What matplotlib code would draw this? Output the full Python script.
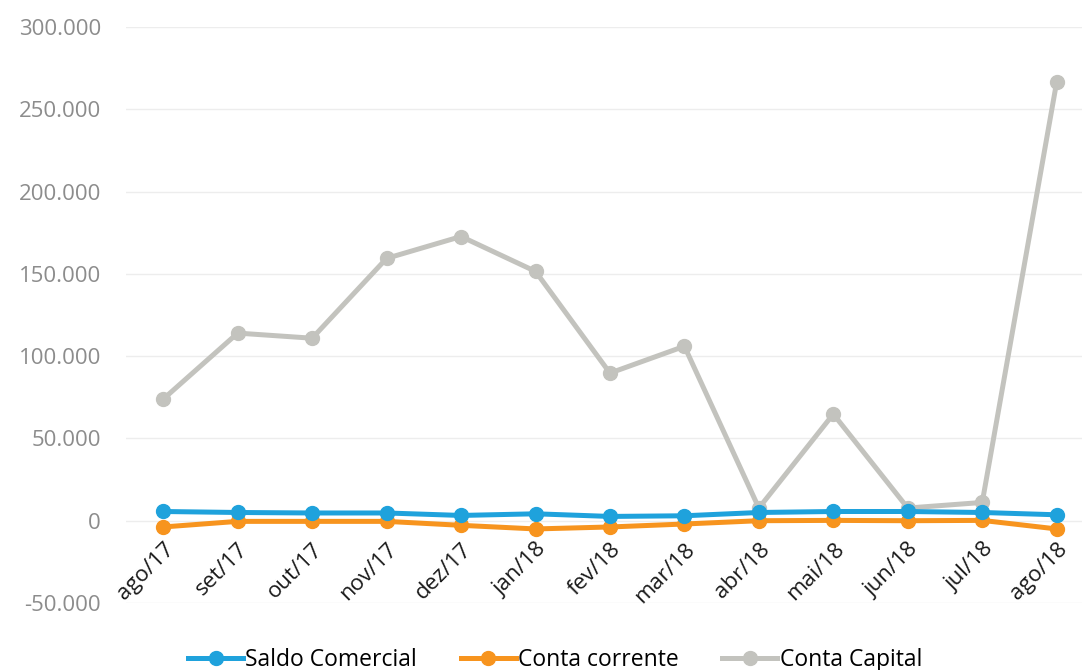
import numpy as np
import matplotlib
matplotlib.use("Agg")
import matplotlib.pyplot as plt

# Monthly balances
months = ['ago/17', 'set/17', 'out/17', 'nov/17', 'dez/17', 'jan/18', 'fev/18',
          'mar/18', 'abr/18', 'mai/18', 'jun/18', 'jul/18', 'ago/18']
saldo_comercial = [5600, 5000, 4700, 4700, 3200, 4200, 2600, 3000, 5000, 5600, 5600, 5000, 3600]
conta_corrente = [-3800, -400, -400, -400, -2800, -5000, -3800, -2000, 0, 200, 0, 200, -5000]
conta_capital = [73900, 114000, 110900, 159400, 172700, 151500, 89700, 106000, 7700, 64800,
                 7700, 11100, 266600]
y_ticks = [-50000, 0, 50000, 100000, 150000, 200000, 250000, 300000]
y_labels = ['-50.000', '0', '50.000', '100.000', '150.000', '200.000', '250.000', '300.000']

plt.rcParams['font.family'] = ['Open Sans', 'DejaVu Sans']

fig = plt.figure(figsize=(10.82, 6.70), dpi=100)
ax = fig.add_axes([126 / 1082, 0.1, 1 - 126 / 1082, 0.8597])

# category labels hang from the zero line, as in the original
ax.spines['bottom'].set_position(('data', 0))

x = np.arange(len(months))
ax.plot(x, saldo_comercial, color='#1FA2DC', lw=3.6, marker='o', ms=10, label='Saldo Comercial', zorder=4)
ax.plot(x, conta_corrente, color='#F7941E', lw=3.6, marker='o', ms=10, label='Conta corrente', zorder=3)
ax.plot(x, conta_capital, color='#C3C3BE', lw=3.6, marker='o', ms=10, label='Conta Capital', zorder=2)

ax.set_xlim(-0.5, 12.34)
ax.set_ylim(-50000, 300000)
ax.set_yticks(y_ticks)
ax.set_yticklabels(y_labels, fontsize=16, color='#8C8C8C')
ax.set_xticks(x)
ax.set_xticklabels(months, rotation=45, ha='right', rotation_mode='anchor', fontsize=16, color='#1a1a1a')
ax.tick_params(axis='both', length=0)
ax.tick_params(axis='y', pad=18)
ax.tick_params(axis='x', pad=13)
ax.grid(axis='y', color='#EDEDED', lw=1)
ax.set_axisbelow(True)
for s in ax.spines.values():
    s.set_visible(False)

fig.legend(loc='center', bbox_to_anchor=(0.513, 1 - 660 / 670), ncol=3, frameon=False,
           fontsize=16.5, handlelength=2.4, handletextpad=0.1, columnspacing=1.9)

fig.savefig('out.png', dpi=100)
